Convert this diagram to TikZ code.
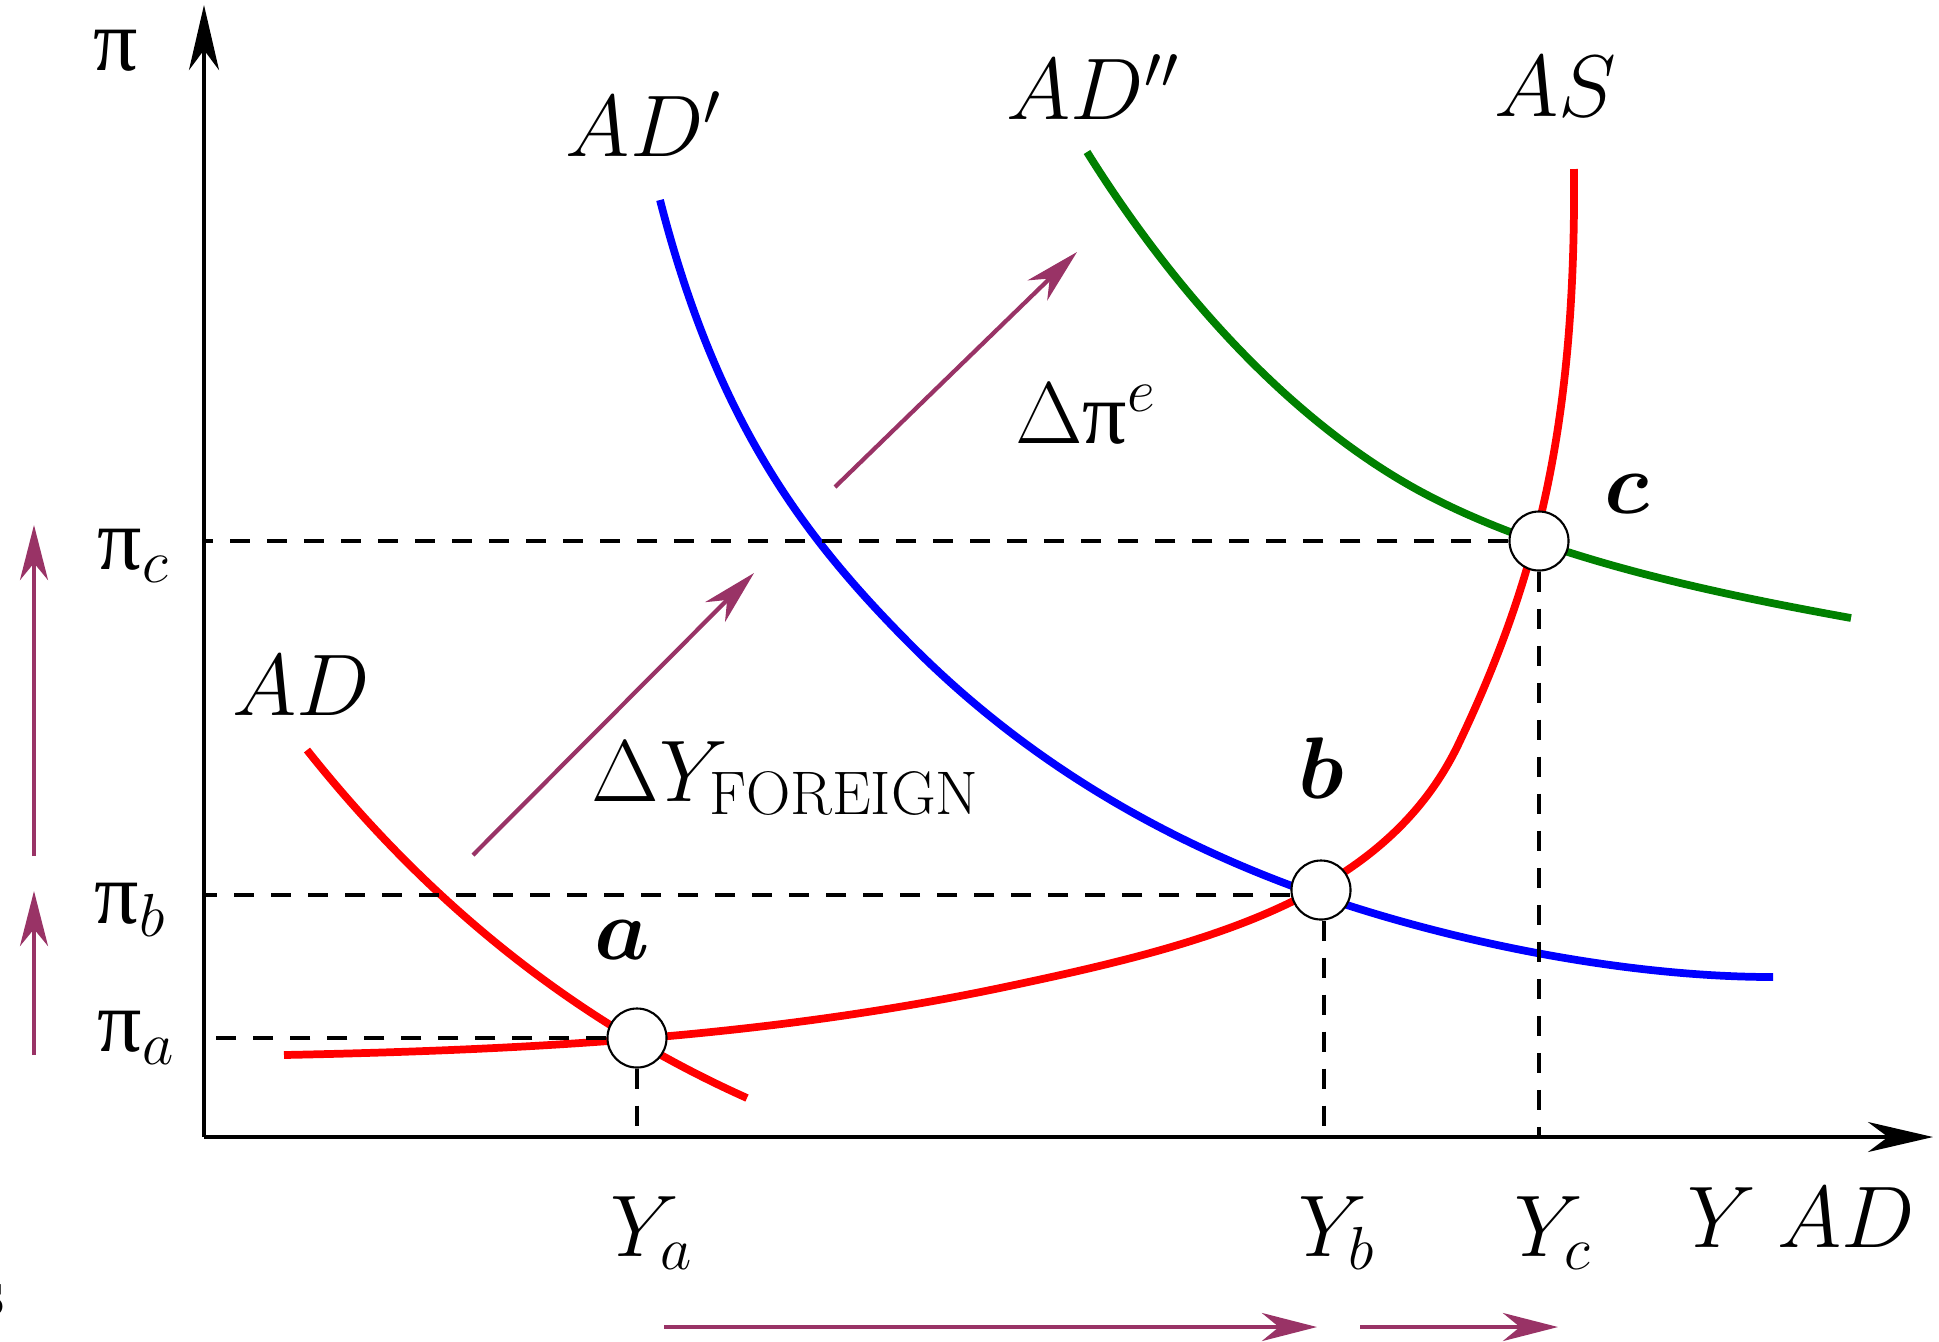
\documentclass[tikz,border=0pt]{standalone}
\usepackage{bm}
\usepackage{fontspec}
\newfontfamily\grk{Liberation Serif}
\usetikzlibrary{arrows.meta}
\definecolor{plum}{RGB}{153,51,102}
\definecolor{asred}{RGB}{255,0,0}
\definecolor{adblue}{RGB}{0,0,255}
\definecolor{adgreen}{RGB}{0,128,0}
\newcommand{\upi}{\mbox{\grk π}}
\begin{document}
\begin{tikzpicture}[x=0.01cm,y=-0.01cm,
  axis/.style={line width=1pt,-{Stealth[length=0.65cm,width=0.3cm,inset=0.2cm]}},
  curve/.style={line width=2.2pt},
  guide/.style={line width=1pt,dash pattern=on 0.2cm off 0.17cm},
  shiftarrow/.style={plum,line width=1.2pt,-{Stealth[length=0.55cm,width=0.28cm,inset=0.17cm]}},
  eq/.style={circle,draw,fill=white,line width=0.6pt,minimum size=0.59cm,inner sep=0pt},
  lbl/.style={font=\fontsize{25}{30}\selectfont,inner sep=0pt}]
\useasboundingbox (0,0) rectangle (1939,1341);
% axes
\coordinate (O) at (204,1137);
\coordinate (ytop) at (204,5);
\coordinate (xend) at (1933,1137);
\draw[axis] (O) -- (ytop);
\draw[axis] (O) -- (xend);
% curves
\draw[curve,adgreen] (1087,152) .. controls (1172,288) and (1286,417) .. (1416,489)
  .. controls (1536,555) and (1701,591) .. (1851,618);
\draw[curve,adblue] (660,200) .. controls (717,422) and (803,537) .. (913,647)
  .. controls (1043,777) and (1190,851) .. (1320,896)
  .. controls (1450,941) and (1623,977) .. (1773,977);
\draw[curve,asred] (307,750) .. controls (430,905) and (577,1022) .. (747,1098);
\draw[curve,asred] (284,1055) .. controls (524,1050) and (760,1038) .. (1000,988)
  .. controls (1200,946) and (1384,901) .. (1459,743)
  .. controls (1539,575) and (1576,420) .. (1574,169);
% equilibria
\node[eq] (a) at (637,1038) {};
\node[eq] (b) at (1321,890) {};
\node[eq] (c) at (1539,541) {};
% guides
\draw[guide] (a.west) -- (a.west -| O);
\draw[guide] (a.south) -- (a.south |- O);
\draw[guide] ([yshift=-0.05cm]b.west) -- ([yshift=-0.05cm]b.west -| O);
\draw[guide] ([xshift=0.03cm]b.south) -- ([xshift=0.03cm]b.south |- O);
\draw[guide] (c.west) -- (c.west -| O);
\draw[guide] (c.south) -- (c.south |- O);
% shift arrows
\coordinate (dy1) at (473,855);
\coordinate (dy2) at (754,573);
\coordinate (dp1) at (835,487);
\coordinate (dp2) at (1077,252);
\draw[shiftarrow] (dy1) -- (dy2);
\draw[shiftarrow] (dp1) -- (dp2);
\coordinate (l1) at (34,856);
\coordinate (l2) at (34,525);
\coordinate (l3) at (34,1055);
\coordinate (l4) at (34,891);
\draw[shiftarrow] (l1) -- (l2);
\draw[shiftarrow] (l3) -- (l4);
\coordinate (b1) at (664,1327);
\coordinate (b2) at (1317,1327);
\coordinate (b3) at (1360,1327);
\coordinate (b4) at (1558,1327);
\draw[shiftarrow] (b1) -- (b2);
\draw[shiftarrow] (b3) -- (b4);
% labels
\node[lbl] (pilab) at (116,51) {\upi};
\node[lbl,anchor=west] (pic) at (97,556) {$\upi_c$};
\node[lbl,anchor=west] (pib) at (94,910) {$\upi_b$};
\node[lbl,anchor=west] (pia) at (97,1038) {$\upi_a$};
\node[lbl] (ya) at (652,1233) {$Y_a$};
\node[lbl] (yb) at (1337,1233) {$Y_b$};
\node[lbl] (yc) at (1553,1233) {$Y_c$};
\node[lbl] (ylab) at (1722,1218) {$Y$};
\node[lbl] (adx) at (1846,1218) {$AD$};
\node[lbl] (adlab) at (301,686) {$AD$};
\node[lbl] (adplab) at (644,124) {$AD'$};
\node[lbl] (adpplab) at (1093,87) {$AD''$};
\node[lbl] (aslab) at (1555,87) {$AS$};
\node[lbl] (alab) at (622,940) {$\bm{a}$};
\node[lbl] (blab) at (1321,768) {$\bm{b}$};
\node[lbl] (clab) at (1627,494) {$\bm{c}$};
\node[lbl] (dylab) at (786,779) {$\Delta Y_{\mathrm{FOREIGN}}$};
\node[lbl] (dplab) at (1086,414) {$\Delta\upi^{e}$};
\node[lbl,anchor=east,font=\fontsize{20}{24}\selectfont] (cut) at (5,1300) {s};
\end{tikzpicture}
\end{document}
